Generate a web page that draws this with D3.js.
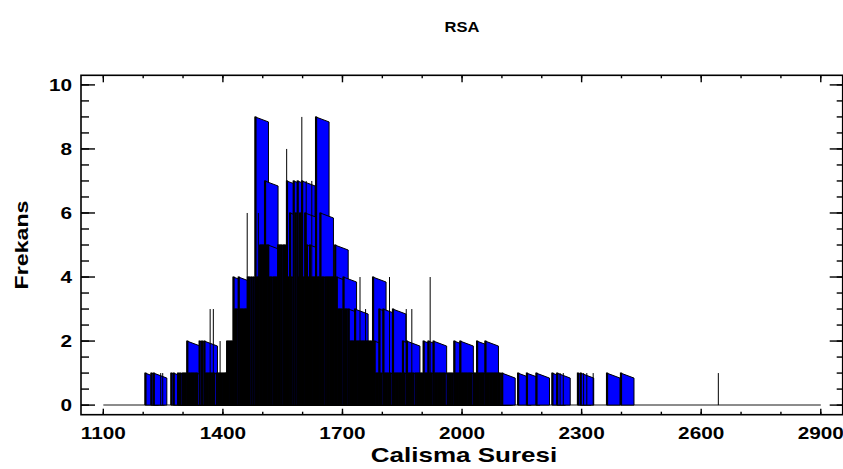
<!DOCTYPE html>
<html>
<head>
<meta charset="utf-8">
<script src="https://cdn.jsdelivr.net/npm/d3@7"></script>
<style>
  body { margin: 0; background: #fff; }
  text { font-family: "Liberation Sans", Arial, sans-serif; font-weight: bold; fill: #000; }
</style>
</head>
<body>
<svg id="chart" width="843" height="469"></svg>
<script>
// frequency of each observed value: [calisma suresi, frekans]
var bars = [
    [1205,1],[1220,1],[1226,1],
    [1270,1],[1276,1],[1287,1],[1292,1],[1298,1],
    [1302,1],[1306,1],[1310,2],[1314,1],[1318,1],[1322,1],[1326,1],[1330,1],[1334,1],[1341,2],[1347,2],[1353,2],
    [1357,1],[1361,1],[1365,1],[1369,1],[1373,1],[1377,1],[1384,1],[1388,1],[1392,1],[1396,1],[1400,1],[1404,1],[1407,1],
    [1410,2],[1414,2],[1418,2],[1422,2],[1426,4],[1430,3],[1434,3],[1439,4],[1443,3],[1447,3],[1451,3],[1455,3],[1458,3],
    [1462,4],[1466,4],[1471,4],[1476,4],[1481,9],[1485,4],[1489,4],[1493,5],[1497,5],[1501,5],
    [1505,7],[1509,5],[1513,5],[1517,4],[1521,4],[1526,4],[1530,4],[1534,4],[1538,5],[1542,5],
    [1546,5],[1551,5],[1555,5],[1560,7],[1564,4],[1568,6],[1572,4],[1577,7],[1582,6],[1587,7],
    [1590,4],[1593,6],[1598,7],[1602,4],[1606,6],[1610,5],[1614,4],[1618,5],[1622,4],[1626,4],[1630,4],
    [1633,9],[1637,4],[1640,4],[1644,6],[1648,4],[1652,4],[1657,4],[1661,4],[1665,4],[1669,4],
    [1673,4],[1677,4],[1681,5],[1685,4],
    [1689,3],[1693,3],[1697,3],[1702,4],[1706,3],[1710,3],[1715,3],[1719,2],[1723,2],[1727,2],
    [1731,3],[1735,2],[1739,2],[1743,2],[1747,2],[1751,2],[1755,2],[1759,2],[1763,2],[1767,2],[1771,2],[1776,4],[1780,2],
    [1784,1],[1788,1],[1792,3],[1796,1],[1802,3],[1806,1],[1810,1],[1814,1],[1820,1],[1826,3],
    [1830,1],[1834,1],[1838,1],[1842,1],[1846,1],[1851,2],[1855,1],[1861,2],[1865,1],[1869,1],
    [1873,1],[1877,1],[1883,1],[1887,1],[1891,1],[1895,1],[1899,1],[1903,2],[1907,1],[1911,1],
    [1915,2],[1919,1],[1923,1],[1928,2],[1932,1],[1936,1],[1940,1],[1944,1],[1948,1],[1952,1],
    [1956,1],[1963,1],[1967,1],[1971,1],[1975,1],[1980,2],[1984,1],[1988,1],[1992,1],[1995,2],
    [1999,1],[2003,1],[2007,1],[2011,1],[2015,1],[2019,1],[2023,1],[2029,1],[2033,1],[2037,2],
    [2041,1],[2045,1],[2049,1],[2053,1],[2058,2],[2062,1],[2066,1],[2070,1],[2074,1],[2078,1],
    [2082,1],[2086,1],[2090,1],[2094,1],[2100,1],
    [2140,1],[2162,1],[2186,1],[2226,1],[2238,1],[2290,1],[2297,1],[2363,1],[2398,1]
];

// values drawn only as a thin line
var spikes = [
    [1244,1],[1249,1],[1368,3],[1376,3],[1393,2],[1461,6],[1489,6],[1560,8],[1598,9],[1609,7],
    [1623,7],[1744,4],[1758,3],[1818,4],[1860,3],[1874,3],[1920,4],[2246,1],[2254,1],[2305,1],
    [2313,1],[2329,1],[2643,1]
];

var xMajor = [1100, 1400, 1700, 2000, 2300, 2600, 2900];
var xMinor = d3.range(1100, 2901, 100);
var yMajor = [0, 2, 4, 6, 8, 10];
var yMinor = d3.range(0, 10.01, 0.5);

var svg = d3.select('#chart'),
    x = d3.scaleLinear().domain([1044, 2955]).range([81, 842.7]),
    y = d3.scaleLinear().domain([-0.3, 10.3]).range([414.7, 75.3]),
    barW = 13.3,
    slant = 5,
    stretch = 'scale(1.26,1)';

// baseline
svg.append('line')
    .attr('x1', x(1100)).attr('x2', x(2900))
    .attr('y1', y(0)).attr('y2', y(0))
    .attr('stroke', '#8c8c8c').attr('stroke-width', 2);

// bars, later values drawn over earlier ones
var bar = svg.append('g').selectAll('g').data(bars).enter().append('g');

bar.append('path')
    .attr('d', function(d) {
        var x0 = x(d[0]), yt = y(d[1]), y0 = y(0);
        return 'M' + x0 + ',' + y0 + 'L' + x0 + ',' + yt
            + 'L' + (x0 + barW) + ',' + (yt + slant) + 'L' + (x0 + barW) + ',' + y0 + 'Z';
    })
    .attr('fill', '#0000ff')
    .attr('stroke', '#000')
    .attr('stroke-width', 1);

bar.append('line')
    .attr('x1', function(d) { return x(d[0]) + 0.3; })
    .attr('x2', function(d) { return x(d[0]) + 0.3; })
    .attr('y1', y(0))
    .attr('y2', function(d) { return y(d[1]) - 0.5; })
    .attr('stroke', '#000')
    .attr('stroke-width', 2.2);

svg.append('g').selectAll('line').data(spikes).enter().append('line')
    .attr('x1', function(d) { return x(d[0]); })
    .attr('x2', function(d) { return x(d[0]); })
    .attr('y1', y(0))
    .attr('y2', function(d) { return y(d[1]); })
    .attr('stroke', '#000')
    .attr('stroke-width', 1);

// frame
svg.append('rect')
    .attr('x', x.range()[0]).attr('y', y.range()[1])
    .attr('width', x.range()[1] - x.range()[0])
    .attr('height', y.range()[0] - y.range()[1])
    .attr('fill', 'none').attr('stroke', '#000').attr('stroke-width', 1.6);

// ticks
var ticks = svg.append('g').attr('stroke', '#000').attr('stroke-width', 1.4);
function hTicks(vals, len, edge, dir) {
    ticks.append('g').selectAll('line').data(vals).enter().append('line')
        .attr('x1', function(d) { return x(d); }).attr('x2', function(d) { return x(d); })
        .attr('y1', edge).attr('y2', edge + dir * len);
}
function vTicks(vals, len, edge, dir) {
    ticks.append('g').selectAll('line').data(vals).enter().append('line')
        .attr('y1', function(d) { return y(d); }).attr('y2', function(d) { return y(d); })
        .attr('x1', edge).attr('x2', edge + dir * len);
}
hTicks(xMinor, 3, y.range()[0], -1);
hTicks(xMajor, 6, y.range()[0], -1);
hTicks(xMinor, 3, y.range()[1], 1);
hTicks(xMajor, 7, y.range()[1], 1);
vTicks(yMinor, 8, x.range()[0], 1);
vTicks(yMajor, 14, x.range()[0], 1);
vTicks(yMinor, 6, x.range()[1], -1);
vTicks(yMajor, 13, x.range()[1], -1);

// tick labels
svg.append('g').selectAll('text').data(xMajor).enter().append('text')
    .attr('transform', function(d) { return 'translate(' + x(d) + ',438.5) ' + stretch; })
    .attr('text-anchor', 'middle')
    .style('font-size', '16.5px')
    .text(function(d) { return d; });

svg.append('g').selectAll('text').data(yMajor).enter().append('text')
    .attr('transform', function(d) { return 'translate(72,' + (y(d) + 6) + ') ' + stretch; })
    .attr('text-anchor', 'end')
    .style('font-size', '16.5px')
    .text(function(d) { return d; });

// titles
svg.append('text')
    .attr('transform', 'translate(462,32) scale(1.18,1)')
    .attr('text-anchor', 'middle')
    .style('font-size', '14px')
    .text('RSA');

svg.append('text')
    .attr('transform', 'translate(464,462) scale(1.3,1)')
    .attr('text-anchor', 'middle')
    .style('font-size', '20px')
    .text('Calisma Suresi');

svg.append('text')
    .attr('transform', 'translate(28,245) rotate(-90) scale(1.22,1)')
    .attr('text-anchor', 'middle')
    .style('font-size', '19px')
    .text('Frekans');
</script>
</body>
</html>
